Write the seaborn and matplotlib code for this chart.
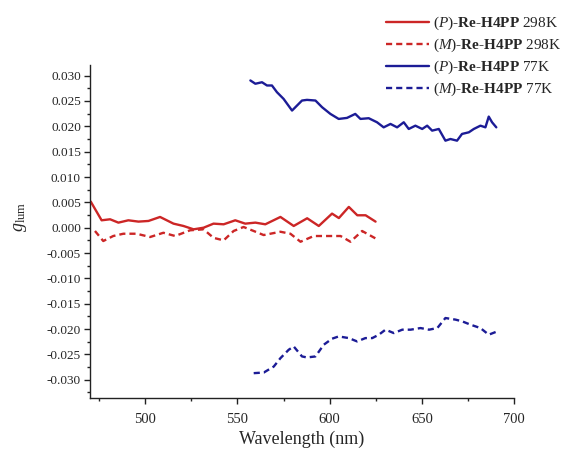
import numpy as np
import pandas as pd
import seaborn as sns
import matplotlib
matplotlib.use("Agg")
import matplotlib.pyplot as plt
from matplotlib.ticker import MultipleLocator, FormatStrFormatter

# ---- data ----
p298_x = [470.4, 476.3, 480.9, 485.4, 490.8, 496.3, 501.7, 508.0, 515.3, 520.7, 526.2, 531.6,
          537.0, 542.5, 548.8, 554.2, 559.7, 565.1, 573.3, 580.5, 587.8, 594.1, 601.3, 605.0,
          610.4, 615.0, 619.5, 624.9]
p298_y = [0.00515, 0.00146, 0.00166, 0.0010, 0.00146, 0.0012, 0.00133, 0.00212, 0.0008, 0.00034,
          -0.00032, 0.0000, 0.0008, 0.00067, 0.00146, 0.0008, 0.0010, 0.00067, 0.00212, 0.00034,
          0.00186, 0.00034, 0.00278, 0.0019, 0.0041, 0.00245, 0.00245, 0.0012]

m298_x = [472.7, 477.2, 482.6, 488.1, 495.3, 502.6, 509.8, 516.2, 524.3, 531.6, 537.0, 542.5,
          547.9, 553.3, 558.8, 564.2, 573.3, 578.7, 584.2, 591.4, 600.4, 605.9, 611.3, 617.6, 625.8]
m298_y = [-0.00065, -0.00263, -0.00164, -0.00119, -0.00119, -0.00184, -0.0010, -0.00164, -0.00051,
          -0.00032, -0.0020, -0.0025, -0.00065, 0.00014, -0.00065, -0.00145, -0.0008, -0.00119,
          -0.00277, -0.00164, -0.00164, -0.00164, -0.00277, -0.00065, -0.0023]

p77_x = [557.0, 559.7, 563.3, 566.0, 568.7, 571.4, 575.0, 579.6, 585.0, 587.7, 592.3, 595.9,
         600.4, 604.9, 609.4, 613.9, 616.7, 621.2, 625.7, 629.3, 633.0, 636.6, 640.2, 642.9,
         646.5, 650.2, 652.9, 655.6, 659.2, 662.8, 665.5, 669.1, 671.8, 675.5, 678.2, 681.8,
         684.5, 686.3, 688.1, 690.4]
p77_y = [0.02905, 0.0284, 0.0287, 0.02806, 0.02806, 0.02674, 0.02542, 0.02311, 0.02509, 0.02522,
         0.02509, 0.02377, 0.02245, 0.02146, 0.02166, 0.02245, 0.02146, 0.0216, 0.0208, 0.0198,
         0.02047, 0.0198, 0.0208, 0.01948, 0.02013, 0.01948, 0.02013, 0.01915, 0.01948, 0.01717,
         0.0175, 0.01717, 0.0185, 0.01882, 0.01948, 0.02013, 0.0198, 0.02192, 0.0208, 0.0198]

m77_x = [558.8, 564.3, 569.7, 573.3, 577.8, 580.5, 585.0, 587.7, 592.3, 596.8, 601.3, 604.9,
         610.4, 614.9, 619.4, 623.1, 626.7, 630.3, 634.8, 639.4, 643.9, 649.3, 653.9, 658.4,
         662.8, 668.3, 671.9, 676.4, 681.8, 686.3, 690.9]
m77_y = [-0.0287, -0.02857, -0.02739, -0.02574, -0.02408, -0.02343, -0.0254, -0.0256, -0.0254,
         -0.02309, -0.0219, -0.02145, -0.02178, -0.02244, -0.02178, -0.02178, -0.02111, -0.02012,
         -0.02079, -0.02012, -0.02012, -0.0198, -0.02012, -0.0198, -0.01782, -0.01814, -0.01848,
         -0.01913, -0.0198, -0.02111, -0.02046]

x_ticks = [500, 550, 600, 650, 700]
y_ticks = [-0.030, -0.025, -0.020, -0.015, -0.010, -0.005, 0.000, 0.005, 0.010, 0.015, 0.020, 0.025, 0.030]

labels = [r"$\mathrm{(}\mathit{P}\mathrm{)}$-Re-H4PP $\mathrm{298K}$",
          r"$\mathrm{(}\mathit{M}\mathrm{)}$-Re-H4PP $\mathrm{298K}$",
          r"$\mathrm{(}\mathit{P}\mathrm{)}$-Re-H4PP $\mathrm{77K}$",
          r"$\mathrm{(}\mathit{M}\mathrm{)}$-Re-H4PP $\mathrm{77K}$"]

# ---- style ----
sns.set_style("ticks")
plt.rcParams['font.family'] = ['Liberation Serif', 'DejaVu Serif']
plt.rcParams['mathtext.fontset'] = 'custom'
plt.rcParams['mathtext.rm'] = 'Liberation Serif'
plt.rcParams['mathtext.it'] = 'Liberation Serif:italic'
plt.rcParams['mathtext.bf'] = 'Liberation Serif:bold'

RED = '#cc2626'
BLUE = '#1c1c96'
LW = 1.7

fig = plt.figure(figsize=(5.8, 4.5), dpi=100)
ax = fig.add_axes([90/580, 1 - 398/450, (514 - 90)/580, (398 - 65)/450])

series = [(p298_x, p298_y, RED, '-'), (m298_x, m298_y, RED, '--'),
          (p77_x, p77_y, BLUE, '-'), (m77_x, m77_y, BLUE, '--')]
handles = []
for (xs, ys, c, ls), lab in zip(series, labels):
    df = pd.DataFrame({'x': xs, 'y': ys})
    sns.lineplot(data=df, x='x', y='y', ax=ax, color=c, lw=LW, linestyle=ls,
                 estimator=None, sort=True, legend=False)
    line = ax.get_lines()[-1]
    if ls == '--':
        line.set_dashes((2.6, 1.7))
    handles.append(line)

ax.set_xlim(470, 700)
ax.set_ylim(-0.0336, 0.0321)
ax.set_xticks(x_ticks)
ax.set_yticks(y_ticks)
ax.xaxis.set_minor_locator(MultipleLocator(25))
ax.yaxis.set_minor_locator(MultipleLocator(0.0025))
ax.yaxis.set_major_formatter(FormatStrFormatter('%.3f'))

for s in ['top', 'right']:
    ax.spines[s].set_visible(False)
for s in ['left', 'bottom']:
    ax.spines[s].set_linewidth(1.0)
    ax.spines[s].set_color('#222222')

ax.tick_params(axis='both', which='major', direction='out', length=4.5, width=1.0, color='#222222')
ax.tick_params(axis='both', which='minor', direction='out', length=2.5, width=1.0, color='#222222')
ax.tick_params(axis='y', labelsize=9.5, pad=2)
ax.tick_params(axis='x', labelsize=10.5, pad=6)

ax.set_xlabel('Wavelength (nm)', fontsize=13, labelpad=4)
ax.set_ylabel(r'$g_{\mathrm{lum}}$', fontsize=13)
ax.yaxis.set_label_coords(-0.145, 0.545)

leg = fig.legend(handles, labels, loc='upper left', bbox_to_anchor=(386/580, 1 - 15/450),
                 bbox_transform=fig.transFigure, frameon=False,
                 prop={'weight': 'bold', 'size': 11},
                 handlelength=2.8, handletextpad=0.3, labelspacing=0.3,
                 borderpad=0, borderaxespad=0)
for h in leg.legend_handles:
    h.set_linewidth(LW)

fig.savefig('out.png', dpi=100)
